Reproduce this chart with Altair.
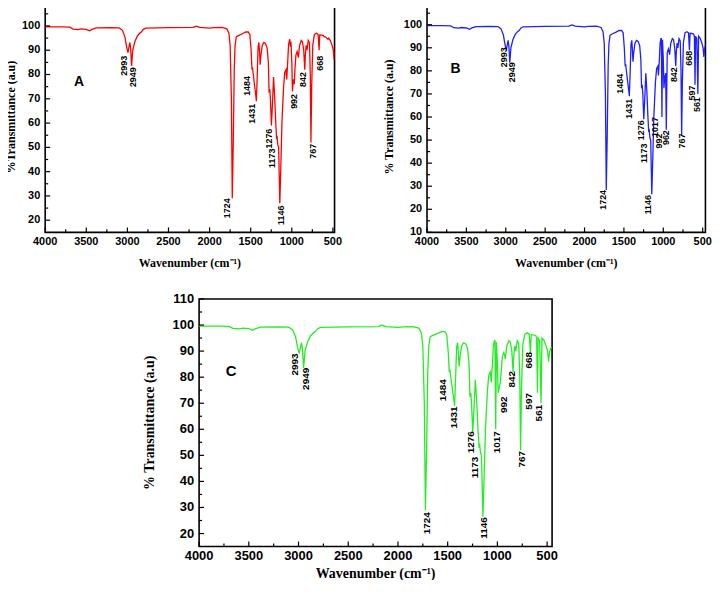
import altair as alt
import pandas as pd

# ---------------- data ----------------
WN = [4000, 3800, 3700, 3660, 3600, 3560, 3500, 3460, 3430, 3380,
      3200, 3100, 3060, 3030, 3010, 2993, 2980, 2970, 2960, 2949,
      2935, 2910, 2880, 2850, 2830, 2810, 2780, 2500, 2200, 2160,
      2120, 2000, 1950, 1850, 1790, 1765, 1750, 1735, 1724, 1712,
      1700, 1690, 1675, 1650, 1600, 1560, 1530, 1510, 1495, 1484,
      1478, 1470, 1455, 1440, 1431, 1420, 1410, 1400, 1392, 1385,
      1375, 1360, 1340, 1320, 1300, 1285, 1276, 1268, 1260, 1248,
      1235, 1222, 1210, 1195, 1185, 1178, 1170, 1160, 1146, 1135,
      1120, 1100, 1085, 1070, 1062, 1050, 1040, 1030, 1025, 1017,
      1010, 1000, 992, 982, 970, 962, 950, 935, 920, 905,
      885, 870, 855, 842, 835, 825, 815, 800, 785, 775,
      767, 758, 745, 725, 700, 680, 668, 660, 640, 615,
      605, 597, 590, 575, 561, 552, 530, 510, 495, 485,
      478, 465, 455]

T_A = [99.6, 99.6, 99.5, 98.7, 98.5, 98.8, 98.6, 98.0, 98.6, 99.2,
       99.3, 99.2, 98.2, 95.5, 91.5, 89.0, 91.5, 93.2, 90.5, 83.5,
       90.0, 93.5, 95.8, 97.0, 97.5, 98.5, 99.1, 99.3, 99.4, 99.9,
       99.4, 99.1, 99.3, 99.4, 98.8, 97.0, 92.0, 70.0, 29.0, 52.0,
       82.0, 92.0, 95.5, 96.0, 96.8, 97.5, 97.5, 96.5, 90.0, 82.0,
       83.0, 80.5, 76.0, 72.0, 69.0, 80.0, 91.5, 93.2, 89.0, 84.0,
       88.0, 92.0, 93.2, 92.8, 91.0, 85.0, 72.5, 74.0, 70.0, 59.0,
       68.0, 79.0, 72.0, 60.0, 53.5, 54.0, 51.0, 50.0, 27.0, 40.0,
       60.0, 75.0, 81.0, 82.0, 78.0, 85.0, 92.0, 94.0, 94.5, 91.5,
       93.5, 85.0, 73.0, 78.0, 76.0, 82.0, 88.0, 89.5, 87.0, 92.0,
       94.0, 93.5, 90.0, 82.0, 88.0, 92.0, 90.0, 94.0, 93.0, 80.0,
       52.0, 75.0, 92.0, 96.5, 97.0, 96.5, 90.0, 96.3, 96.2, 96.0,
       95.5, 95.5, 95.5, 95.0, 94.5, 95.0, 94.0, 92.0, 90.0, 86.0,
       89.0, 91.0, 91.5]

T_B = [99.6, 99.6, 99.5, 98.7, 98.5, 98.8, 98.6, 98.0, 98.6, 99.2,
       99.3, 99.2, 98.2, 95.5, 91.5, 89.0, 91.5, 93.2, 90.5, 83.5,
       90.0, 93.5, 95.8, 97.0, 97.5, 98.5, 99.1, 99.3, 99.4, 99.9,
       99.4, 99.1, 99.3, 99.4, 98.8, 97.0, 92.0, 70.0, 28.4, 52.0,
       82.0, 92.0, 95.5, 96.0, 96.8, 97.5, 97.5, 96.5, 90.0, 82.0,
       83.0, 80.5, 76.0, 72.0, 69.0, 80.0, 91.5, 93.2, 89.0, 84.0,
       88.0, 92.0, 93.2, 92.8, 91.0, 85.0, 72.5, 74.0, 70.0, 59.0,
       68.0, 79.0, 72.0, 60.0, 53.5, 54.0, 51.0, 50.0, 26.5, 40.0,
       60.0, 75.0, 81.0, 82.0, 78.0, 85.0, 92.0, 94.0, 94.0, 60.0,
       93.5, 85.0, 72.5, 77.0, 79.0, 54.5, 88.0, 89.5, 87.0, 92.0,
       94.0, 93.5, 90.0, 82.0, 88.0, 92.0, 90.0, 94.0, 93.0, 80.0,
       52.0, 75.0, 92.0, 96.5, 97.0, 96.5, 89.0, 96.3, 96.2, 96.0,
       95.0, 74.0, 95.0, 94.0, 70.0, 95.0, 94.0, 92.0, 90.0, 86.0,
       89.0, 91.0, 91.5]

T_C = [99.6, 99.6, 99.5, 98.7, 98.5, 98.8, 98.6, 98.0, 98.6, 99.2,
       99.3, 99.2, 98.2, 95.5, 91.5, 89.0, 91.5, 93.2, 90.5, 83.5,
       90.0, 93.5, 95.8, 97.0, 97.5, 98.5, 99.1, 99.3, 99.4, 99.9,
       99.4, 99.1, 99.3, 99.4, 98.8, 97.0, 92.0, 70.0, 29.0, 52.0,
       82.0, 92.0, 95.5, 96.0, 96.8, 97.5, 97.5, 96.5, 90.0, 82.0,
       83.0, 80.5, 76.0, 72.0, 69.0, 80.0, 91.5, 93.2, 89.0, 84.0,
       88.0, 92.0, 93.2, 92.8, 91.0, 85.0, 72.5, 74.0, 70.0, 59.0,
       68.0, 79.0, 72.0, 60.0, 53.5, 54.0, 51.0, 50.0, 26.5, 40.0,
       60.0, 75.0, 81.0, 82.0, 78.0, 85.0, 92.0, 94.0, 94.0, 60.0,
       93.5, 85.0, 74.0, 76.0, 78.0, 82.0, 88.0, 89.5, 87.0, 92.0,
       94.0, 93.5, 90.0, 82.0, 88.0, 92.0, 90.0, 94.0, 93.0, 80.0,
       52.0, 75.0, 92.0, 96.5, 97.0, 96.5, 89.0, 96.3, 96.2, 96.0,
       95.0, 74.0, 95.0, 94.0, 70.0, 95.0, 94.0, 92.0, 90.0, 86.0,
       89.0, 91.0, 91.5]

# peak labels: text, x position (wavenumber), top of label (% T)
A_TEXT = ["2993", "2949", "1724", "1484", "1431", "1276", "1173", "1146", "992", "842", "767", "668"]
A_X = [3036, 2935, 1782, 1540, 1484, 1278, 1242, 1137, 976, 859, 746, 657]
A_Y = [87.7, 83.0, 29.0, 79.4, 67.9, 57.7, 49.5, 26.0, 72.0, 81.0, 51.5, 87.7]

B_TEXT = ["2993", "2949", "1724", "1484", "1431", "1276", "1173", "1146", "1017", "992", "962", "842", "767", "668", "597", "561"]
B_X = [3028, 2916, 1771, 1550, 1438, 1289, 1249, 1189, 1100, 1052, 968, 867, 767, 679, 639, 575]
B_Y = [90.2, 83.7, 28.4, 78.7, 67.9, 58.6, 48.5, 26.2, 60.0, 52.8, 54.3, 81.6, 52.8, 88.7, 73.6, 68.6]

C_TEXT = ["2993", "2949", "1724", "1484", "1431", "1276", "1173", "1146", "1017", "992", "842", "767", "668", "597", "561"]
C_X = [3037, 2927, 1710, 1543, 1437, 1270, 1227, 1137, 1003, 933, 850, 750, 677, 677, 577]
C_Y = [89.1, 83.6, 28.2, 79.2, 68.8, 59.3, 49.5, 26.3, 59.3, 72.6, 82.4, 51.7, 89.7, 73.9, 69.4]

X_MAJOR = [4000, 3500, 3000, 2500, 2000, 1500, 1000, 500]
X_MINOR = [3750, 3250, 2750, 2250, 1750, 1250, 750]
Y_MAJOR_AC = [20, 30, 40, 50, 60, 70, 80, 90, 100, 110]
Y_MAJOR_B = [10, 20, 30, 40, 50, 60, 70, 80, 90, 100, 110]
Y_MINOR = [15, 25, 35, 45, 55, 65, 75, 85, 95, 105]
X_TITLE = "Wavenumber (cm⁻¹)"


def panel(t_vals, color, xlow, ydom, ymajor, texts, tx, ty, letter, lx, ly,
          W, H, tick_fs, title_fs, letter_fs, lab_fs, ytitle, ytp, xtp):
    xs = alt.Scale(domain=[xlow, 4000], reverse=True, nice=False, zero=False)
    ys = alt.Scale(domain=ydom, nice=False, zero=False)

    def X(f):
        return alt.X(f, scale=xs, axis=None)

    def Y(f):
        return alt.Y(f, scale=ys, axis=None)

    sans = dict(font="Liberation Sans", fontWeight="bold", color="black")
    serif = dict(font="Liberation Serif", fontWeight="bold", color="black")

    df = pd.DataFrame({"wn": WN, "t": t_vals})
    line = alt.Chart(df).mark_line(color=color, strokeWidth=1.3, clip=True).encode(
        x=X("wn:Q"), y=Y("t:Q"))

    xv = [v for v in X_MAJOR if xlow <= v <= 4000]
    yv = [v for v in ymajor if ydom[0] <= v <= ydom[1]]
    xmaj = pd.DataFrame({"v": xv, "s": [str(v) for v in xv]})
    xmin = pd.DataFrame({"v": [v for v in X_MINOR if xlow <= v <= 4000]})
    ymaj = pd.DataFrame({"v": yv, "s": [str(v) for v in yv]})
    ymin = pd.DataFrame({"v": [v for v in Y_MINOR if ydom[0] < v < ydom[1]]})

    tx_maj = alt.Chart(xmaj).mark_rule(color="black", strokeWidth=1.2).encode(
        x=X("v:Q"), y=alt.value(H), y2=alt.value(H - 5))
    tx_min = alt.Chart(xmin).mark_rule(color="black", strokeWidth=1.2).encode(
        x=X("v:Q"), y=alt.value(H), y2=alt.value(H - 3))
    ty_maj = alt.Chart(ymaj).mark_rule(color="black", strokeWidth=1.2).encode(
        y=Y("v:Q"), x=alt.value(0), x2=alt.value(5))
    ty_min = alt.Chart(ymin).mark_rule(color="black", strokeWidth=1.2).encode(
        y=Y("v:Q"), x=alt.value(0), x2=alt.value(3))

    # tick labels
    xlab = alt.Chart(xmaj).mark_text(align="center", baseline="top", fontSize=tick_fs,
                                     **sans).encode(
        x=X("v:Q"), y=alt.value(H + 4), text="s:N")
    ylab = alt.Chart(ymaj).mark_text(align="right", baseline="middle", fontSize=tick_fs,
                                     **sans).encode(
        x=alt.value(-5), y=Y("v:Q"), text="s:N")

    # axis titles
    lw = 3 * 0.556 * tick_fs
    xt = alt.Chart(pd.DataFrame({"txt": [X_TITLE]})).mark_text(
        align="center", baseline="top", fontSize=title_fs, **serif).encode(
        x=alt.value(W / 2), y=alt.value(H + 4 + tick_fs + xtp), text="txt:N")
    yt = alt.Chart(pd.DataFrame({"txt": [ytitle]})).mark_text(
        angle=270, align="center", baseline="bottom", fontSize=title_fs, **serif).encode(
        x=alt.value(-(5 + lw + ytp)), y=alt.value(H / 2), text="txt:N")

    ldf = pd.DataFrame({"txt": texts, "lx": tx, "ly": ty})
    labels = alt.Chart(ldf).mark_text(angle=270, align="right", baseline="middle",
                                      fontSize=lab_fs, **sans).encode(
        x=X("lx:Q"), y=Y("ly:Q"), text="txt:N")
    letdf = pd.DataFrame({"txt": [letter], "lx": [lx], "ly": [ly]})
    let = alt.Chart(letdf).mark_text(align="center", baseline="middle",
                                     fontSize=letter_fs, **sans).encode(
        x=X("lx:Q"), y=Y("ly:Q"), text="txt:N")
    return alt.layer(line, tx_maj, tx_min, ty_maj, ty_min, xlab, ylab, xt, yt,
                     labels, let).properties(width=W, height=H)


pA = panel(T_A, "#ff0000", 480, [15, 110], Y_MAJOR_AC, A_TEXT, A_X, A_Y, "A", 3589, 77,
           291, 232, 11, 12, 14, 9, "%Transmittance (a.u)", 4, 11)
pB = panel(T_B, "#1f1fff", 465, [10, 110], Y_MAJOR_B, B_TEXT, B_X, B_Y, "B", 3639, 80.8,
           280, 232, 11, 12, 14, 9, "% Transmittance (a.u)", 8, 11)
pC = panel(T_C, "#22ee22", 450, [15, 110], Y_MAJOR_AC, C_TEXT, C_X, C_Y, "C", 3677, 82.5,
           355, 249, 13, 14, 15, 10, "% Transmittance (a.u)", 16, 4)

top = alt.hconcat(pA, pB, spacing=38)
chart = alt.vconcat(top, pC, spacing=22, center=True).properties(
    padding={"left": -4, "top": -15, "right": -1, "bottom": -4},
    background="white",
).configure_view(stroke="black", strokeWidth=1.6)

chart.save("out.html", embed_options={"renderer": "svg", "actions": False})
